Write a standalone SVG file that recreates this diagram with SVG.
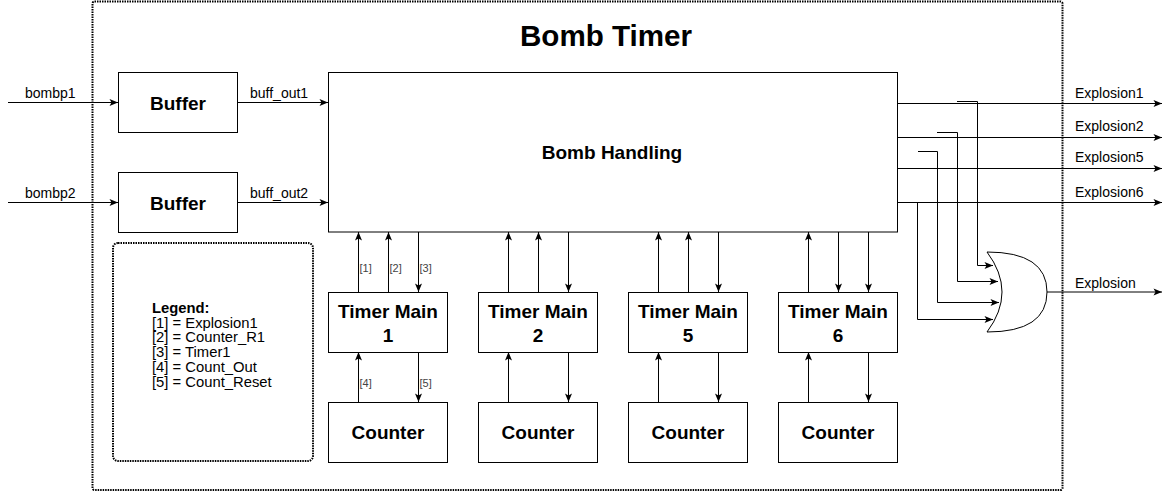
<svg xmlns="http://www.w3.org/2000/svg" width="1171" height="492" viewBox="0 0 1171 492">
<defs>
<marker id="arr" viewBox="0 0 10 8" refX="9.5" refY="4" markerWidth="10" markerHeight="8" markerUnits="userSpaceOnUse" orient="auto">
<path d="M1,0.5 L9.5,4 L1,7.5 L3,4 z" fill="#000"/>
</marker>
<style>
.box{fill:#fff;stroke:#000;stroke-width:1}
.dot{fill:none;stroke:#000;stroke-width:2;stroke-dasharray:1.5 1}
.ln{fill:none;stroke:#000;stroke-width:1}
.arw{fill:none;stroke:#000;stroke-width:1;marker-end:url(#arr)}
.bt{font-family:"Liberation Sans",Arial,sans-serif;font-weight:bold;font-size:19px;fill:#000;text-anchor:middle}
.lbl{font-family:"Liberation Sans",Arial,sans-serif;font-size:14px;fill:#000}
.sm{font-family:"Liberation Sans",Arial,sans-serif;font-size:11px;fill:#444}
.lg{font-family:"Liberation Sans",Arial,sans-serif;font-size:14.8px;fill:#000}
</style>
</defs>
<rect width="1171" height="492" fill="#fff"/>

<g id="bomb-timer-frame">
<rect class="dot" x="92.5" y="1.5" width="970" height="488.5" rx="2"/>
<text x="606" y="46" font-family="'Liberation Sans',Arial,sans-serif" font-weight="bold" font-size="29.6" text-anchor="middle">Bomb Timer</text>
</g>

<g id="legend">
<rect class="dot" x="113" y="243" width="200" height="218" rx="5"/>
<text class="lg" x="152" y="312.5" font-weight="bold">Legend:</text>
<text class="lg" x="152" y="327.5">[1] = Explosion1</text>
<text class="lg" x="152" y="342.3">[2] = Counter_R1</text>
<text class="lg" x="152" y="357">[3] = Timer1</text>
<text class="lg" x="152" y="371.8">[4] = Count_Out</text>
<text class="lg" x="152" y="386.6">[5] = Count_Reset</text>
</g>

<g id="buffer1">
<rect class="box" x="118.5" y="72.5" width="119" height="60"/>
<text class="bt" x="178" y="109.5">Buffer</text>
</g>
<g id="buffer2">
<rect class="box" x="118.5" y="172.5" width="119" height="60"/>
<text class="bt" x="178" y="209.5">Buffer</text>
</g>

<g id="bomb-handling">
<rect class="box" x="328.5" y="72.5" width="569" height="159.5"/>
<text class="bt" x="612" y="158.5" font-size="18.7">Bomb Handling</text>
</g>

<g id="timer-main-1">
<rect class="box" x="328.5" y="292.5" width="119" height="60"/>
<text class="bt" x="388" y="317.5">Timer Main</text>
<text class="bt" x="388" y="341.5">1</text>
</g>
<g id="timer-main-2">
<rect class="box" x="478.5" y="292.5" width="119" height="60"/>
<text class="bt" x="538" y="317.5">Timer Main</text>
<text class="bt" x="538" y="341.5">2</text>
</g>
<g id="timer-main-5">
<rect class="box" x="628.5" y="292.5" width="119" height="60"/>
<text class="bt" x="688" y="317.5">Timer Main</text>
<text class="bt" x="688" y="341.5">5</text>
</g>
<g id="timer-main-6">
<rect class="box" x="778.5" y="292.5" width="119" height="60"/>
<text class="bt" x="838" y="317.5">Timer Main</text>
<text class="bt" x="838" y="341.5">6</text>
</g>

<g id="counter-1">
<rect class="box" x="328.5" y="402.5" width="119" height="60"/>
<text class="bt" x="388" y="439">Counter</text>
</g>
<g id="counter-2">
<rect class="box" x="478.5" y="402.5" width="119" height="60"/>
<text class="bt" x="538" y="439">Counter</text>
</g>
<g id="counter-5">
<rect class="box" x="628.5" y="402.5" width="119" height="60"/>
<text class="bt" x="688" y="439">Counter</text>
</g>
<g id="counter-6">
<rect class="box" x="778.5" y="402.5" width="119" height="60"/>
<text class="bt" x="838" y="439">Counter</text>
</g>

<g id="or-gate">
<path d="M987,252 Q1047,252 1047,292 Q1047,332 987,332 Q1017,292 987,252 Z" fill="#fff" stroke="#000" stroke-width="1"/>
</g>

<g id="connectors">
<line class="arw" x1="8" y1="102.5" x2="118" y2="102.5"/>
<line class="arw" x1="8" y1="202.5" x2="118" y2="202.5"/>
<line class="arw" x1="238" y1="102.5" x2="328" y2="102.5"/>
<line class="arw" x1="238" y1="202.5" x2="328" y2="202.5"/>
<text class="lbl" x="25" y="98">bombp1</text>
<text class="lbl" x="25" y="198">bombp2</text>
<text class="lbl" x="250" y="98">buff_out1</text>
<text class="lbl" x="250" y="198">buff_out2</text>

<line class="arw" x1="898" y1="103.5" x2="1162" y2="103.5"/>
<line class="arw" x1="898" y1="137.5" x2="1162" y2="137.5"/>
<line class="arw" x1="898" y1="168.5" x2="1162" y2="168.5"/>
<line class="arw" x1="898" y1="202.5" x2="1162" y2="202.5"/>
<line class="arw" x1="1047" y1="292" x2="1162" y2="292"/>
<text class="lbl" x="1075" y="98">Explosion1</text>
<text class="lbl" x="1075" y="131">Explosion2</text>
<text class="lbl" x="1075" y="162">Explosion5</text>
<text class="lbl" x="1075" y="196.5">Explosion6</text>
<text class="lbl" x="1075" y="288.3">Explosion</text>

<polyline class="arw" points="957,101.5 977.5,101.5 977.5,265.5 993,265.5"/>
<polyline class="arw" points="937,132.5 957.5,132.5 957.5,281.5 998,281.5"/>
<polyline class="arw" points="918,151.5 937.5,151.5 937.5,302.5 999,302.5"/>
<polyline class="arw" points="917.5,202.5 917.5,319.5 993,319.5"/>

<line class="arw" x1="358.5" y1="292" x2="358.5" y2="232"/>
<line class="arw" x1="388.5" y1="292" x2="388.5" y2="232"/>
<line class="arw" x1="418.5" y1="232" x2="418.5" y2="292"/>
<line class="arw" x1="358.5" y1="402" x2="358.5" y2="352"/>
<line class="arw" x1="418.5" y1="352" x2="418.5" y2="402"/>
<text class="sm" x="359.5" y="272">[1]</text>
<text class="sm" x="389.5" y="272">[2]</text>
<text class="sm" x="419.5" y="272">[3]</text>
<text class="sm" x="359.5" y="386.5">[4]</text>
<text class="sm" x="419.5" y="386.5">[5]</text>

<line class="arw" x1="508.5" y1="292" x2="508.5" y2="232"/>
<line class="arw" x1="538.5" y1="292" x2="538.5" y2="232"/>
<line class="arw" x1="568.5" y1="232" x2="568.5" y2="292"/>
<line class="arw" x1="508.5" y1="402" x2="508.5" y2="352"/>
<line class="arw" x1="568.5" y1="352" x2="568.5" y2="402"/>

<line class="arw" x1="658.5" y1="292" x2="658.5" y2="232"/>
<line class="arw" x1="688.5" y1="292" x2="688.5" y2="232"/>
<line class="arw" x1="718.5" y1="232" x2="718.5" y2="292"/>
<line class="arw" x1="658.5" y1="402" x2="658.5" y2="352"/>
<line class="arw" x1="718.5" y1="352" x2="718.5" y2="402"/>

<line class="arw" x1="808.5" y1="292" x2="808.5" y2="232"/>
<line class="arw" x1="838.5" y1="232" x2="838.5" y2="292"/>
<line class="arw" x1="868.5" y1="232" x2="868.5" y2="292"/>
<line class="arw" x1="808.5" y1="402" x2="808.5" y2="352"/>
<line class="arw" x1="868.5" y1="352" x2="868.5" y2="402"/>
</g>
</svg>
